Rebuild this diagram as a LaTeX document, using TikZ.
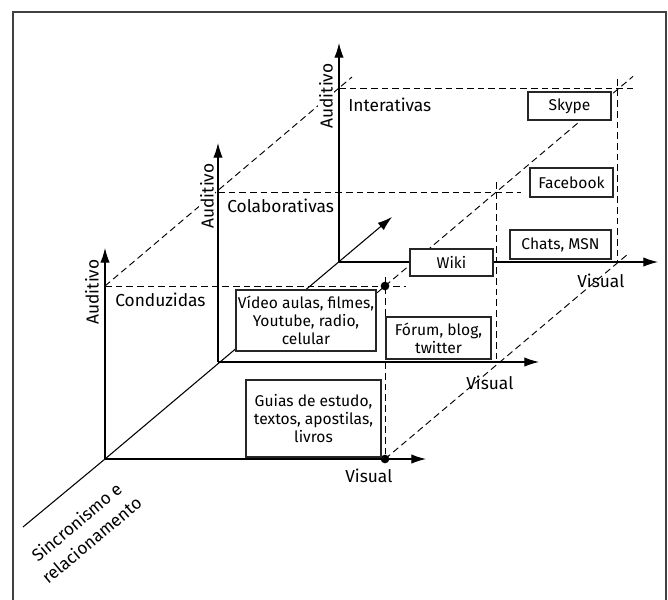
\documentclass[tikz,border=0pt]{standalone}
\usepackage{fontspec}
\setmainfont{Fira Sans}
\usetikzlibrary{arrows.meta}
\begin{document}
\begin{tikzpicture}[x=0.75pt,y=-0.75pt,
  ax/.style={line width=0.8pt},
  axis/.style={line width=0.8pt,-{Latex[length=11pt,width=7pt]}},
  dsh/.style={line width=0.7pt,dash pattern=on 5pt off 3pt},
  item/.style={draw=black!85,line width=0.8pt,fill=white,align=center,
    font=\fontsize{11.7}{13.5}\selectfont,inner sep=0pt},
  lbl/.style={font=\fontsize{13}{17.5}\selectfont,inner sep=0pt},
  aud/.style={lbl,rotate=90,fill=white,inner sep=1pt},
  dot/.style={circle,fill=black,inner sep=0pt,minimum size=6.5pt}
]
\useasboundingbox (0,0) rectangle (668,600);
% frame
\draw[line width=0.8pt,black!75] (13,600) -- (13,12) -- (666,12) -- (666,600);

% coordinates of the three systems
\coordinate (O1) at (105,459);
\coordinate (O2) at (218,362);
\coordinate (O3) at (339,262);
\coordinate (V1) at (105,248);
\coordinate (V2) at (218,143);
\coordinate (V3) at (339,43);
\coordinate (H1) at (426,459);
\coordinate (H2) at (539,362);
\coordinate (H3) at (658,262);
\coordinate (S0) at (23,527);
\coordinate (D) at (392,217);

% dashed box edges
\coordinate (a1) at (105,286); \coordinate (a2) at (406,286);
\coordinate (b1) at (218,192); \coordinate (b2) at (521,192);
\coordinate (c1) at (339,88);  \coordinate (c2) at (633,88);
\coordinate (v1a) at (385,277); \coordinate (v1b) at (385,459);
\coordinate (v2a) at (496,182); \coordinate (v2b) at (496,362);
\coordinate (v3a) at (617,79);  \coordinate (v3b) at (617,262);
\coordinate (e1a) at (105,286); \coordinate (e1b) at (352,77);
\coordinate (e2a) at (377,292.8); \coordinate (e2b) at (633,76.4);
\coordinate (e3a) at (385,459); \coordinate (e3b) at (628,254);

\draw[dsh] (a1) -- (a2);
\draw[dsh] (b1) -- (b2);
\draw[dsh] (c1) -- (c2);
\draw[dsh] (v1a) -- (v1b);
\draw[dsh] (v2a) -- (v2b);
\draw[dsh] (v3a) -- (v3b);
\draw[dsh] (e1a) -- (e1b);
\draw[dsh] (e2a) -- (e2b);
\draw[dsh] (e3a) -- (e3b);

% axes
\draw[ax] (S0) -- (O1);
\draw[axis] (O1) -- (D);
\draw[axis] (O1) -- (V1);
\draw[axis] (O1) -- (H1);
\draw[axis] (O2) -- (V2);
\draw[axis] (O2) -- (H2);
\draw[axis] (O3) -- (V3);
\draw[axis] (O3) -- (H3);

% dots
\node[dot] (d1) at (385,286) {};
\node[dot] (d2) at (385,459) {};

% boxes
\node[item,minimum width=62.25pt,minimum height=21pt] (skype) at (569.5,106) {Skype};
\node[item,minimum width=62.25pt,minimum height=21.75pt] (fb) at (571.5,182.5) {Facebook};
\node[item,minimum width=75.75pt,minimum height=21.75pt] (chats) at (560.5,244.5) {Chats, MSN};
\node[item,minimum width=62.25pt,minimum height=20.25pt] (wiki) at (451.5,262.5) {Wiki};
\node[item,minimum width=105pt,minimum height=45.75pt] (video) at (306,320.5) {Vídeo aulas, filmes,\\Youtube, radio,\\celular};
\node[item,minimum width=78.75pt,minimum height=31.5pt] (forum) at (438.5,338) {Fórum, blog,\\twitter};
\node[item,minimum width=101.25pt,minimum height=57.75pt] (guias) at (313.5,418.5) {Guias de estudo,\\textos, apostilas,\\livros};

% labels
\node[aud] (au1) at (92,292) {Auditivo};
\node[aud] (au2) at (207,196) {Auditivo};
\node[aud] (au3) at (326,96) {Auditivo};
\node[lbl,anchor=base west] (int) at (348,111) {Interativas};
\node[lbl,anchor=base west] (col) at (227,212) {Colaborativas};
\node[lbl,anchor=base west] (con) at (115,306) {Conduzidas};
\node[lbl,anchor=base west] (vis1) at (345,482) {Visual};
\node[lbl,anchor=base west] (vis2) at (466,389) {Visual};
\node[lbl,anchor=base west] (vis3) at (577,287) {Visual};
\node[lbl,rotate=40,align=center] (sinc) at (84,531) {Sincronismo e\\relacionamento};
\end{tikzpicture}
\end{document}
